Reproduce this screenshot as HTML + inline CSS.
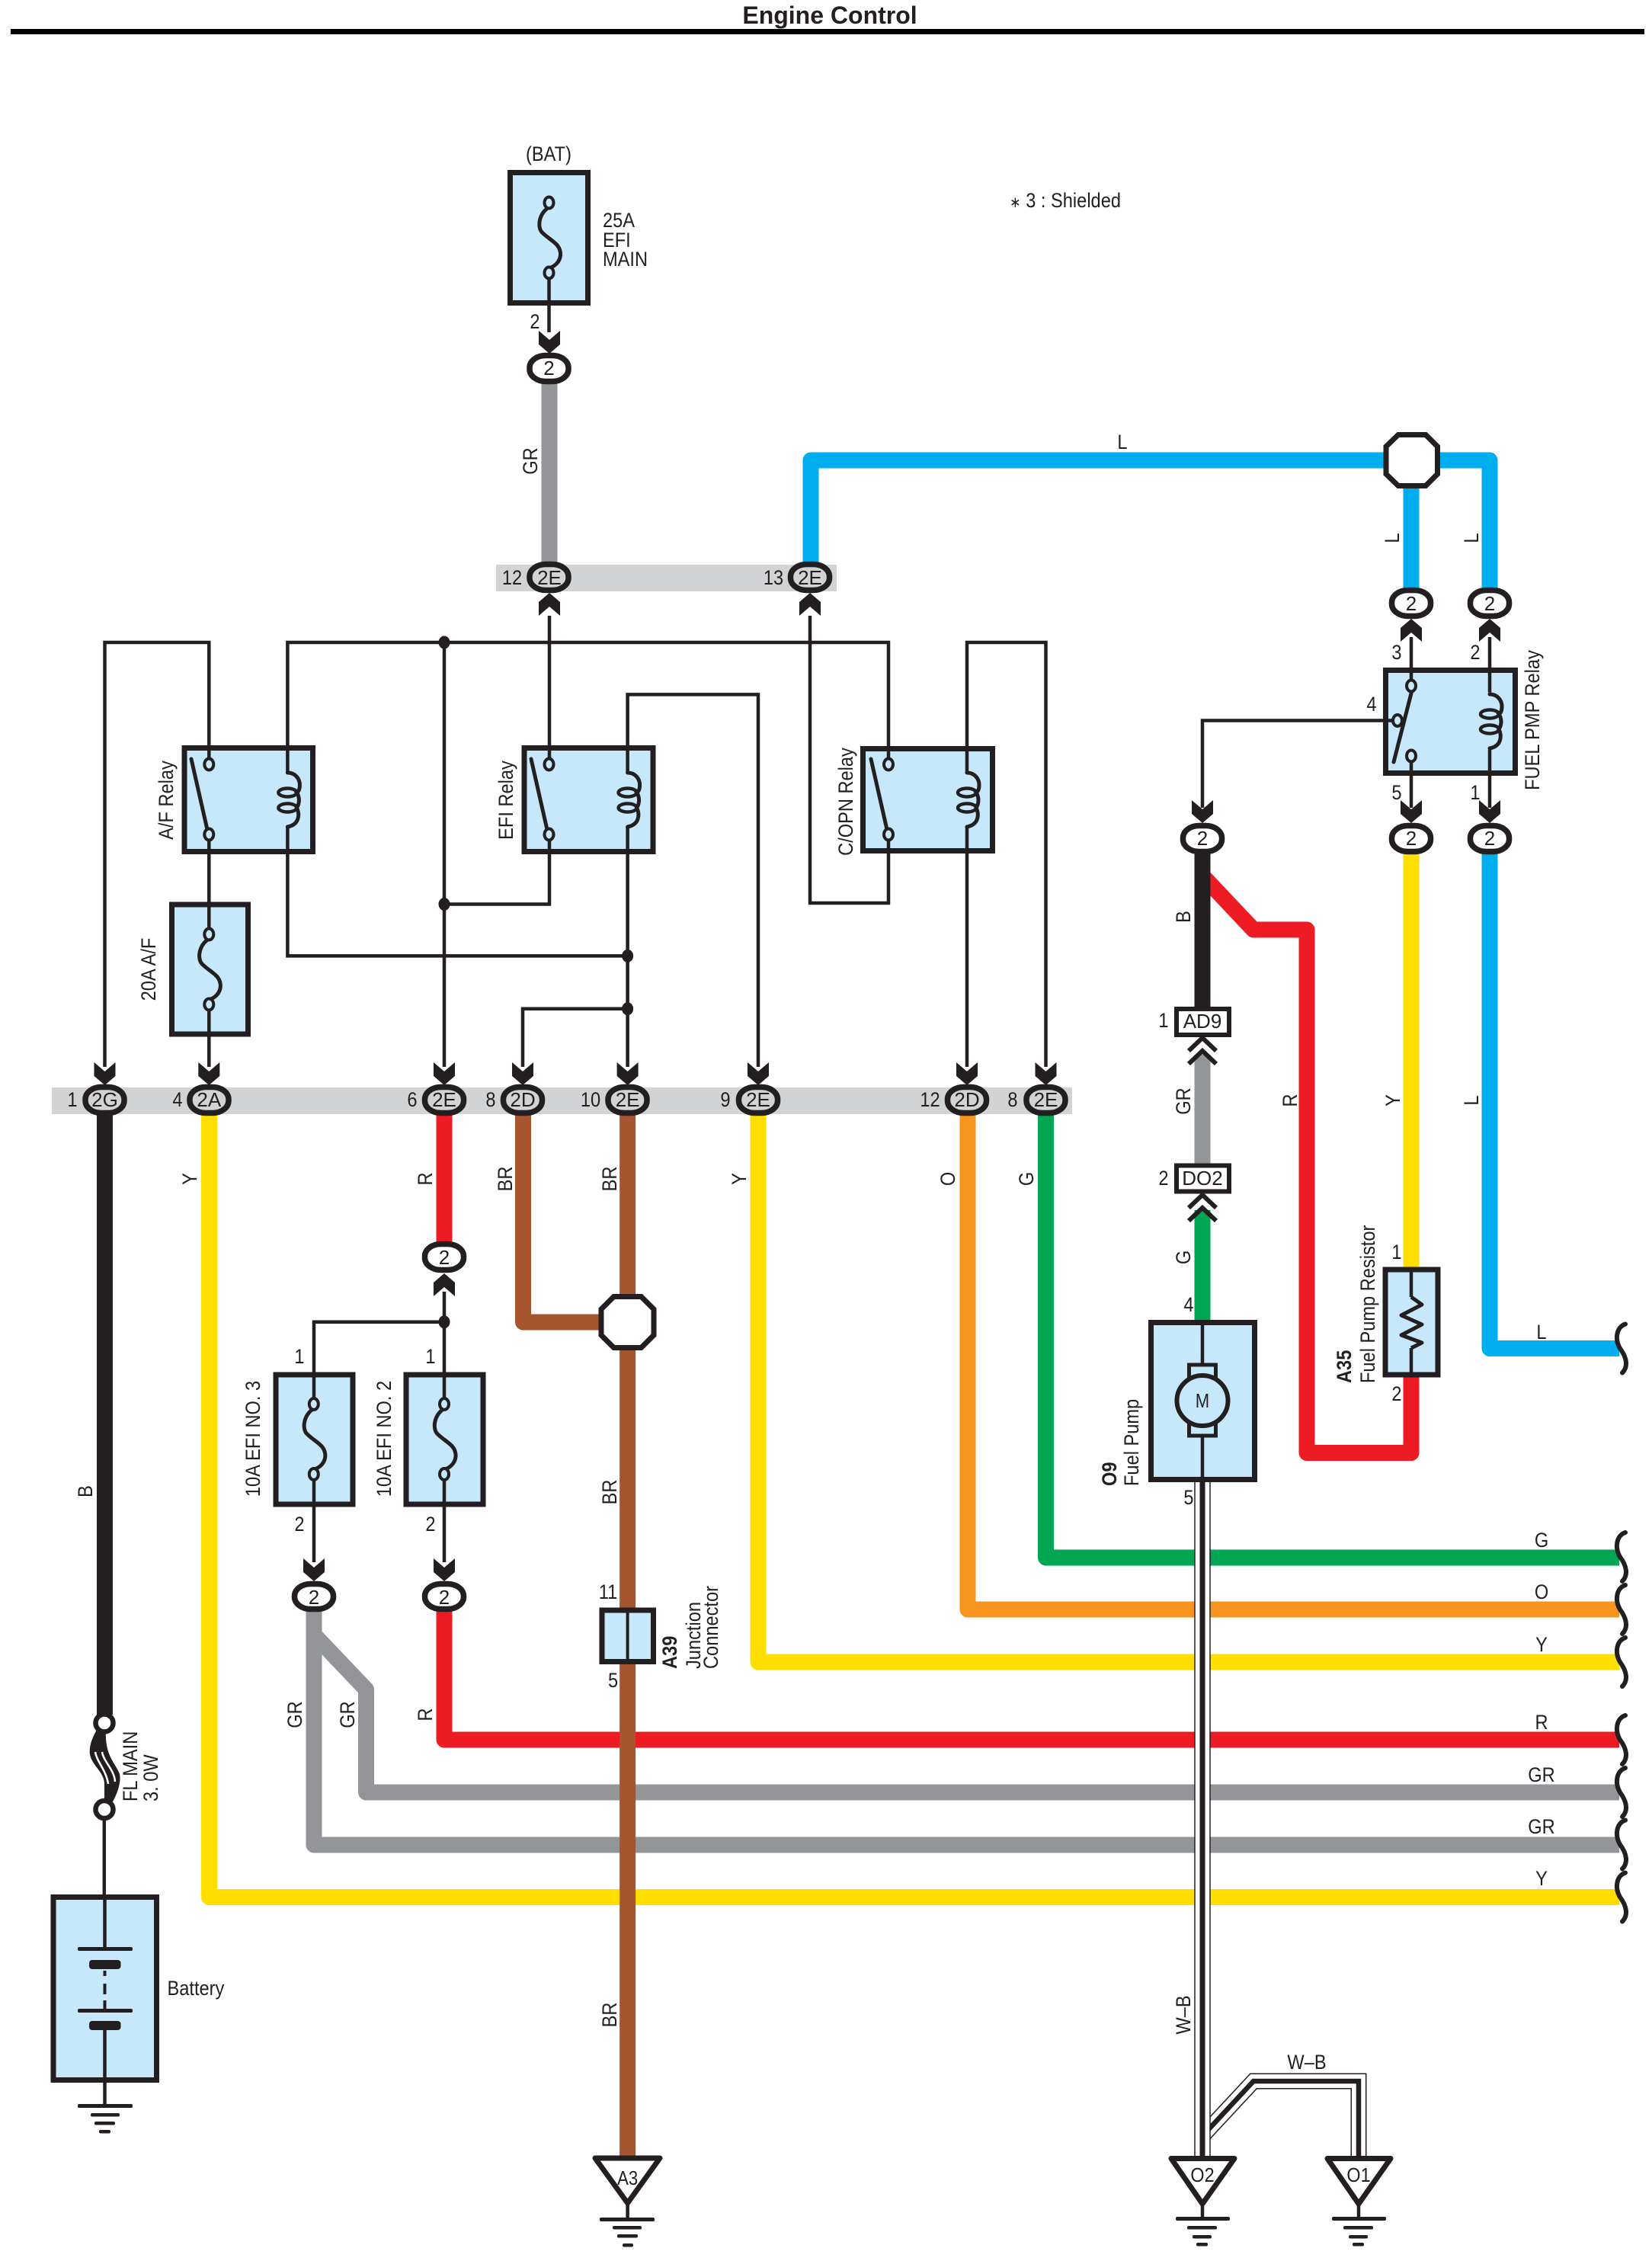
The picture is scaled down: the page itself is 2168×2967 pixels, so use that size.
<!DOCTYPE html>
<html><head><meta charset="utf-8"><title>Engine Control</title>
<style>
html,body{margin:0;padding:0;background:#fff}
svg{display:block}
text{font-family:"Liberation Sans",sans-serif;font-size:27px;fill:#231f20}
.m{text-anchor:middle}
.b{font-weight:bold}
.c{font-size:26px}
.w{fill:none;stroke-width:21;stroke-linejoin:round}
.t{fill:none;stroke:#231f20;stroke-width:4.5;stroke-linejoin:miter}
.box{fill:#c7e8fb;stroke:#231f20;stroke-width:7}
.term{fill:#c7e8fb;stroke:#231f20;stroke-width:4}
.sym{fill:none;stroke:#231f20;stroke-width:5;stroke-linecap:round}
.con{fill:#fff;stroke:#231f20;stroke-width:7.5}
.cog{fill:#d1d3d4;stroke:#231f20;stroke-width:7.5}
.con rect,.cog rect{rx:21px;ry:16px}
.k{fill:#231f20}
</style></head><body>
<svg width="2168" height="2967" viewBox="0 0 2168 2967" xmlns="http://www.w3.org/2000/svg">
<defs>
<polygon id="ad" class="k" points="-14,-30 -14,-12 0,0 14,-12 14,-30 0,-18"/>
<polygon id="au" class="k" points="-14,30 -14,12 0,0 14,12 14,30 0,18"/>
<g id="fuse"><path class="sym" d="M0 -40C-14 -32 -16 -12 -8 -6C2 4 16 8 15 23C14 33 6 38 0 40"/><ellipse class="term" cx="0" cy="-46" rx="6" ry="7.5"/><ellipse class="term" cx="0" cy="46" rx="6" ry="7.5"/></g>
<g id="coil"><path class="sym" d="M0 0C10 0 16 8 16 16C16 22 14 25 12 26C16 32 16 40 12 46C16 54 16 68 0 71"/><ellipse cx="0" cy="26" rx="12" ry="5.5" fill="none" stroke="#231f20" stroke-width="4.5"/><ellipse cx="0" cy="46" rx="12" ry="5.5" fill="none" stroke="#231f20" stroke-width="4.5"/></g>
<g id="wavy"><path d="M11 -32C-1 -28 -3 -12 4 0C13 12 15 24 7 32" fill="none" stroke="#231f20" stroke-width="6" stroke-linecap="round"/></g>
<g id="chev"><path d="M-18 21L0 4L18 21M-18 38L0 21L18 38" fill="none" stroke="#231f20" stroke-width="6"/></g>
</defs>

<!-- title -->
<text class="b m" style="font-size:32px" x="1089" y="31">Engine Control</text>
<rect x="14" y="38" width="2144" height="7" fill="#000"/>
<text transform="translate(1325,272) scale(.875,1)"><tspan style="font-size:20px">∗</tspan> 3 : Shielded</text>

<!-- bands -->
<rect x="651" y="741" width="447" height="35" fill="#d1d3d4"/>
<rect x="68" y="1427" width="1339" height="35" fill="#d1d3d4"/>

<!-- colored wires -->
<g class="w">
<path stroke="#939598" d="M721 500V745"/>
<path stroke="#00aeef" d="M1064 745V604H1955V780"/>
<path stroke="#00aeef" d="M1852 604V780"/>
<path stroke="#00aeef" d="M1955 1110V1769.5H2125"/>
<path stroke="#ffde00" d="M1852 1110V1670"/>
<path stroke="#ed1c24" d="M1578 1149L1645 1220H1715V1906.5H1852V1800"/>
<path stroke="#231f20" d="M1578 1110V1325"/>
<path stroke="#939598" d="M1578 1384V1530"/>
<path stroke="#00a651" d="M1578 1588V1736"/>
<path stroke="#231f20" d="M137.5 1455V2250"/>
<path stroke="#ffde00" d="M274.5 1455V2489.5H2125"/>
<path stroke="#ed1c24" d="M583 1455V1635"/>
<path stroke="#ed1c24" d="M583 2110V2283H2125"/>
<path stroke="#939598" d="M412 2110V2421H2125"/>
<path stroke="#939598" d="M412 2145L480.5 2217V2352H2125"/>
<path stroke="#ffde00" d="M995 1455V2181H2125"/>
<path stroke="#f7941d" d="M1270 1455V2112H2125"/>
<path stroke="#00a651" d="M1372.5 1455V2044H2125"/>
<path stroke="#a7552f" d="M686.5 1455V1735H800"/>
<path stroke="#a7552f" d="M823.6 1455V2835"/>
</g>

<!-- W-B -->
<path d="M1578 2803L1645 2731H1783V2832" fill="none" stroke="#231f20" stroke-width="21"/>
<path d="M1578 2803L1645 2731H1783V2832" fill="none" stroke="#fff" stroke-width="18"/>
<path d="M1578 2803L1645 2731H1783V2832" fill="none" stroke="#231f20" stroke-width="6.5"/>
<rect x="1568" y="1940" width="20" height="892" fill="#fff" stroke="#231f20" stroke-width="1.5"/>
<rect x="1574.5" y="1940" width="7" height="892" fill="#231f20"/>

<!-- boxes -->
<rect class="box" x="669.5" y="226.5" width="102" height="171"/>
<rect class="box" x="242" y="981.5" width="168.5" height="136"/>
<rect class="box" x="688" y="981.5" width="169" height="136"/>
<rect class="box" x="1132.5" y="982.5" width="170" height="134"/>
<rect class="box" x="1818.5" y="879.5" width="170" height="135"/>
<rect class="box" x="225.5" y="1187" width="100" height="170"/>
<rect class="box" x="362" y="1804" width="101" height="170"/>
<rect class="box" x="533" y="1804" width="101" height="170"/>
<rect class="box" x="790" y="2113" width="67.5" height="67.5"/>
<rect class="box" x="1818" y="1666" width="69" height="138"/>
<rect class="box" x="1510.5" y="1735.5" width="136" height="206"/>
<rect class="box" x="70" y="2489.5" width="135.5" height="240"/>

<!-- thin wires -->
<g class="t">
<path d="M720.5 358V436"/>
<path d="M721 808V1003"/>
<path d="M721 1095V1186.5H583"/>
<path d="M137.5 1400V843H274.3V1003"/>
<path d="M274.3 1095V1225M274.3 1318V1400"/>
<path d="M377.4 1014V843H1166V1003"/>
<path d="M377.4 1085V1254.4H823.6"/>
<path d="M583 843V1400"/>
<path d="M995 1400V911.4H823.6V1014"/>
<path d="M823.6 1085V1400"/>
<path d="M686 1400V1323.8H823.6"/>
<path d="M1063 808V1185H1166V1095"/>
<path d="M1269 1013V843H1372.5V1400"/>
<path d="M1269 1085V1400"/>
<path d="M1578 1060V945.5H1834"/>
<path d="M1852 836V900M1852 992V1060"/>
<path d="M1955 836V908.5M1955 984V1060"/>
<path d="M583 1695V1842M583 1935V2050"/>
<path d="M412 2050V1935M412 1842V1734.7H583"/>
<path d="M136.8 2385V2487"/>
<path d="M1578 1733V1790M1578 1885V1945"/>
<path d="M1852 1666V1702M1852 1769V1805"/>
<path d="M823.6 2112V2180" stroke-width="4"/>
<path d="M137.5 2486V2557M137.5 2664V2764"/>
</g>

<!-- fuses -->
<use href="#fuse" x="720.5" y="312"/>
<use href="#fuse" x="274.3" y="1272"/>
<use href="#fuse" x="411.8" y="1888.5"/>
<use href="#fuse" x="583" y="1888.5"/>

<!-- relays -->
<use href="#coil" x="377.4" y="1014"/><use href="#coil" x="823.6" y="1014"/><use href="#coil" x="1269" y="1014"/><use href="#coil" x="1955" y="911"/>
<path class="sym" d="M251 996L273 1093M697 996L719 1093M1143 996L1165 1093M1829 1000L1854 902"/>
<ellipse class="term" cx="274.3" cy="1003" rx="6" ry="7.5"/><ellipse class="term" cx="274.3" cy="1095" rx="6" ry="7.5"/>
<ellipse class="term" cx="720.5" cy="1003" rx="6" ry="7.5"/><ellipse class="term" cx="720.5" cy="1095" rx="6" ry="7.5"/>
<ellipse class="term" cx="1166" cy="1003" rx="6" ry="7.5"/><ellipse class="term" cx="1166" cy="1095" rx="6" ry="7.5"/>
<ellipse class="term" cx="1852" cy="900" rx="6" ry="7.5"/><ellipse class="term" cx="1834" cy="945.5" rx="6" ry="7.5"/><ellipse class="term" cx="1852" cy="992" rx="6" ry="7.5"/>

<!-- nodes -->
<g class="k"><ellipse cx="583" cy="843" rx="7.5" ry="8.5"/><ellipse cx="583" cy="1186.5" rx="7.5" ry="8.5"/><ellipse cx="823.6" cy="1254.4" rx="7.5" ry="8.5"/><ellipse cx="823.6" cy="1323.8" rx="7.5" ry="8.5"/><ellipse cx="583" cy="1734.7" rx="7.5" ry="8.5"/></g>

<!-- arrows -->
<use href="#ad" x="721" y="464"/>
<use href="#au" x="721" y="778"/><use href="#au" x="1063" y="778"/>
<use href="#au" x="1852" y="812"/><use href="#au" x="1955" y="812"/>
<use href="#ad" x="1578" y="1080"/><use href="#ad" x="1852" y="1080"/><use href="#ad" x="1955" y="1080"/>
<use href="#ad" x="137.5" y="1424"/><use href="#ad" x="274.3" y="1424"/><use href="#ad" x="583" y="1424"/><use href="#ad" x="686" y="1424"/><use href="#ad" x="823.6" y="1424"/><use href="#ad" x="995" y="1424"/><use href="#ad" x="1269" y="1424"/><use href="#ad" x="1372.5" y="1424"/>
<use href="#au" x="583" y="1671"/>
<use href="#ad" x="412" y="2075"/><use href="#ad" x="583" y="2075"/>

<!-- connectors -->
<g class="con">
<rect x="695" y="466.5" width="51" height="34"/>
<rect x="1826.5" y="774.5" width="51" height="34"/><rect x="1929.5" y="774.5" width="51" height="34"/>
<rect x="1552.5" y="1083.5" width="51" height="34"/><rect x="1826.5" y="1083.5" width="51" height="34"/><rect x="1929.5" y="1083.5" width="51" height="34"/>
<rect x="557.5" y="1632.5" width="51" height="34"/>
<rect x="386.5" y="2078.5" width="51" height="33"/><rect x="557.5" y="2078.5" width="51" height="33"/>
</g>
<g class="cog">
<rect x="695" y="740.5" width="51" height="34"/><rect x="1037.5" y="740.5" width="51" height="34"/>
<rect x="112" y="1426.5" width="51" height="34"/><rect x="249" y="1426.5" width="51" height="34"/><rect x="557.5" y="1426.5" width="51" height="34"/><rect x="660.5" y="1426.5" width="51" height="34"/><rect x="798" y="1426.5" width="51" height="34"/><rect x="969.5" y="1426.5" width="51" height="34"/><rect x="1243.5" y="1426.5" width="51" height="34"/><rect x="1347" y="1426.5" width="51" height="34"/>
</g>

<!-- octagons -->
<polygon points="1835,570.5 1871,570.5 1886.5,586 1886.5,622 1871,637.5 1835,637.5 1819,622 1819,586" fill="#fff" stroke="#231f20" stroke-width="7"/>
<polygon points="805.5,1701.5 841.5,1701.5 858,1718 858,1752 841.5,1768.5 805.5,1768.5 789,1752 789,1718" fill="#fff" stroke="#231f20" stroke-width="7"/>

<!-- AD9 / DO2 -->
<rect x="1544" y="1324" width="69" height="34" fill="#fff" stroke="#231f20" stroke-width="6"/>
<rect x="1544" y="1529.5" width="69" height="34" fill="#fff" stroke="#231f20" stroke-width="6"/>
<use href="#chev" x="1578" y="1358"/><use href="#chev" x="1578" y="1564"/>

<!-- motor -->
<rect x="1560.5" y="1791" width="35" height="93" fill="#c7e8fb" stroke="#231f20" stroke-width="5"/>
<ellipse cx="1578" cy="1838" rx="33.5" ry="33" fill="#c7e8fb" stroke="#231f20" stroke-width="6"/>

<!-- resistor -->
<path d="M1852 1702L1866 1712L1839 1726L1866 1738L1839 1752L1866 1762L1852 1769" fill="none" stroke="#231f20" stroke-width="5" stroke-linejoin="round"/>

<!-- wavy ends -->
<use href="#wavy" x="2122" y="1769.5"/><use href="#wavy" x="2122" y="2043"/><use href="#wavy" x="2122" y="2112"/><use href="#wavy" x="2122" y="2181"/><use href="#wavy" x="2122" y="2283"/><use href="#wavy" x="2122" y="2352"/><use href="#wavy" x="2122" y="2420.5"/><use href="#wavy" x="2122" y="2489.5"/>

<!-- fusible link -->
<path class="k" d="M127 2270C118 2285 116 2298 119 2306C123 2318 136 2326 137 2340L137 2366L147 2366C155 2352 159 2338 157 2328C152 2314 137 2304 139 2270Z"/>
<path d="M125 2299C127 2312 139 2322 142 2341M134 2299C136 2312 150 2322 151 2338" fill="none" stroke="#fff" stroke-width="2.5"/>
<ellipse cx="137" cy="2261" rx="11.5" ry="11.5" fill="#fff" stroke="#231f20" stroke-width="6.5"/>
<ellipse cx="137" cy="2374.5" rx="11.5" ry="11.5" fill="#fff" stroke="#231f20" stroke-width="6.5"/>

<!-- battery -->
<g fill="#231f20">
<rect x="102" y="2555" width="72" height="5" rx="2"/><rect x="117" y="2572" width="41.5" height="12" rx="4"/>
<rect x="135.5" y="2586" width="4" height="7"/><rect x="135.5" y="2603" width="4" height="14"/><rect x="135.5" y="2625" width="4" height="12"/>
<rect x="102" y="2636" width="72" height="5" rx="2"/><rect x="117" y="2652" width="41.5" height="12" rx="4"/>
</g>

<!-- grounds -->
<g fill="#231f20">
<rect x="102" y="2761" width="72" height="5" rx="2"/><rect x="119" y="2773" width="38" height="4.5" rx="2"/><rect x="124" y="2784" width="27" height="4.5" rx="2"/><rect x="130" y="2795" width="15" height="4.5" rx="2"/>
<rect x="787" y="2910" width="72" height="5" rx="2"/><rect x="804" y="2921" width="38" height="4.5" rx="2"/><rect x="810" y="2932" width="27" height="4.5" rx="2"/><rect x="817" y="2944" width="14" height="4.5" rx="2"/>
<rect x="1543" y="2909" width="71" height="5" rx="2"/><rect x="1558" y="2921" width="39" height="4.5" rx="2"/><rect x="1565" y="2933" width="25" height="4.5" rx="2"/><rect x="1570" y="2943" width="15" height="4.5" rx="2"/>
<rect x="1748" y="2909" width="71" height="5" rx="2"/><rect x="1763" y="2921" width="39" height="4.5" rx="2"/><rect x="1770" y="2933" width="25" height="4.5" rx="2"/><rect x="1775" y="2943" width="15" height="4.5" rx="2"/>
</g>
<path class="t" d="M823.6 2890V2912M1578 2890V2911M1783 2890V2911"/>

<!-- triangles -->
<polygon points="781,2832 866,2832 823.6,2891" fill="#fff" stroke="#231f20" stroke-width="7" stroke-linejoin="round"/>
<polygon points="1537,2832.5 1620,2832.5 1578,2892" fill="#fff" stroke="#231f20" stroke-width="7" stroke-linejoin="round"/>
<polygon points="1742,2832.5 1825,2832.5 1783,2892" fill="#fff" stroke="#231f20" stroke-width="7" stroke-linejoin="round"/>

<!-- horizontal labels -->
<g class="m">
<text transform="translate(720,211) scale(.875,1)">(BAT)</text>
<text transform="translate(702,431) scale(.875,1)">2</text>
<text class="c" x="720.5" y="492">2</text>
<text class="c" x="721" y="767">2E</text><text class="c" x="1063" y="767">2E</text>
<text transform="translate(672,767) scale(.875,1)">12</text><text transform="translate(1015,767) scale(.875,1)">13</text>
<text transform="translate(1473,589) scale(.875,1)">L</text>
<text class="c" x="1852" y="801">2</text><text class="c" x="1955" y="801">2</text>
<text class="c" x="1578" y="1109">2</text><text class="c" x="1852" y="1109">2</text><text class="c" x="1955" y="1109">2</text>
<text transform="translate(1833,865) scale(.875,1)">3</text><text transform="translate(1936,865) scale(.875,1)">2</text>
<text transform="translate(1800,933) scale(.875,1)">4</text><text transform="translate(1833,1049) scale(.875,1)">5</text><text transform="translate(1936,1049) scale(.875,1)">1</text>
<text class="c" x="137.5" y="1452">2G</text><text class="c" x="274.3" y="1452">2A</text><text class="c" x="583" y="1452">2E</text><text class="c" x="686" y="1452">2D</text><text class="c" x="823.6" y="1452">2E</text><text class="c" x="995" y="1452">2E</text><text class="c" x="1269" y="1452">2D</text><text class="c" x="1372.5" y="1452">2E</text>
<text transform="translate(95,1452) scale(.875,1)">1</text><text transform="translate(233,1452) scale(.875,1)">4</text><text transform="translate(541,1452) scale(.875,1)">6</text><text transform="translate(644,1452) scale(.875,1)">8</text><text transform="translate(775,1452) scale(.875,1)">10</text><text transform="translate(952,1452) scale(.875,1)">9</text><text transform="translate(1220.5,1452) scale(.875,1)">12</text><text transform="translate(1329,1452) scale(.875,1)">8</text>
<text transform="translate(1527,1348) scale(.875,1)">1</text><text transform="translate(1527,1555) scale(.875,1)">2</text>
<text class="c" x="1578" y="1349">AD9</text><text class="c" x="1578" y="1555">DO2</text>
<text transform="translate(1560,1721) scale(.875,1)">4</text><text transform="translate(1560,1974) scale(.875,1)">5</text>
<text class="c" transform="translate(1578,1847) scale(.85,1)">M</text>
<text transform="translate(1833,1652) scale(.875,1)">1</text><text transform="translate(1833,1838) scale(.875,1)">2</text>
<text class="c" x="583" y="1659">2</text><text class="c" x="412" y="2105">2</text><text class="c" x="583" y="2105">2</text>
<text transform="translate(393,1789) scale(.875,1)">1</text><text transform="translate(565,1789) scale(.875,1)">1</text>
<text transform="translate(393,2009) scale(.875,1)">2</text><text transform="translate(565,2009) scale(.875,1)">2</text>
<text transform="translate(798,2098) scale(.875,1)">11</text><text transform="translate(804.6,2214) scale(.875,1)">5</text>
<text transform="translate(2023,1757) scale(.875,1)">L</text><text transform="translate(2023,2030) scale(.875,1)">G</text><text transform="translate(2023,2098) scale(.875,1)">O</text><text transform="translate(2023,2167) scale(.875,1)">Y</text><text transform="translate(2023,2269) scale(.875,1)">R</text><text transform="translate(2023,2338) scale(.875,1)">GR</text><text transform="translate(2023,2406) scale(.875,1)">GR</text><text transform="translate(2023,2474) scale(.875,1)">Y</text>
<text transform="translate(1715,2715) scale(.875,1)">W–B</text>
<text class="c" transform="translate(823.6,2867) scale(.85,1)">A3</text>
<text class="c" transform="translate(1578,2863) scale(.9,1)">O2</text><text class="c" transform="translate(1783,2863) scale(.9,1)">O1</text>
</g>
<text transform="translate(791,298) scale(.875,1)">25A</text><text transform="translate(791,324) scale(.875,1)">EFI</text><text transform="translate(791,349) scale(.875,1)">MAIN</text>
<text transform="translate(219.5,2618) scale(.875,1)">Battery</text>

<!-- rotated labels -->
<g class="m">
<text transform="translate(705,605) rotate(-90) scale(.875,1)">GR</text>
<text transform="translate(1836,706) rotate(-90) scale(.875,1)">L</text><text transform="translate(1940,706) rotate(-90) scale(.875,1)">L</text>
<text transform="translate(2020,945) rotate(-90) scale(.875,1)">FUEL PMP Relay</text>
<text transform="translate(1119,1052) rotate(-90) scale(.875,1)">C/OPN Relay</text>
<text transform="translate(227,1050) rotate(-90) scale(.875,1)">A/F Relay</text>
<text transform="translate(673,1050) rotate(-90) scale(.875,1)">EFI Relay</text>
<text transform="translate(204,1272) rotate(-90) scale(.875,1)">20A A/F</text>
<text transform="translate(258,1547) rotate(-90) scale(.875,1)">Y</text>
<text transform="translate(567,1547) rotate(-90) scale(.875,1)">R</text>
<text transform="translate(672,1547) rotate(-90) scale(.875,1)">BR</text>
<text transform="translate(809,1547) rotate(-90) scale(.875,1)">BR</text>
<text transform="translate(979,1547) rotate(-90) scale(.875,1)">Y</text>
<text transform="translate(1253,1547) rotate(-90) scale(.875,1)">O</text>
<text transform="translate(1356,1547) rotate(-90) scale(.875,1)">G</text>
<text transform="translate(1562,1203) rotate(-90) scale(.875,1)">B</text>
<text transform="translate(1562,1445) rotate(-90) scale(.875,1)">GR</text>
<text transform="translate(1562,1650) rotate(-90) scale(.875,1)">G</text>
<text transform="translate(1702,1444) rotate(-90) scale(.875,1)">R</text>
<text transform="translate(1837,1444) rotate(-90) scale(.875,1)">Y</text>
<text transform="translate(1940,1444) rotate(-90) scale(.875,1)">L</text>
<text transform="translate(121,1957) rotate(-90) scale(.875,1)">B</text>
<text transform="translate(341,1888) rotate(-90) scale(.875,1)">10A EFI NO. 3</text>
<text transform="translate(513,1888) rotate(-90) scale(.875,1)">10A EFI NO. 2</text>
<text transform="translate(809,1958) rotate(-90) scale(.875,1)">BR</text>
<text transform="translate(809,2644) rotate(-90) scale(.875,1)">BR</text>
<text transform="translate(396,2250) rotate(-90) scale(.875,1)">GR</text>
<text transform="translate(465,2250) rotate(-90) scale(.875,1)">GR</text>
<text transform="translate(567,2250) rotate(-90) scale(.875,1)">R</text>
<text transform="translate(1562,2644) rotate(-90) scale(.875,1)">W–B</text>
</g>
<text transform="translate(180,2364) rotate(-90) scale(.875,1)">FL MAIN</text>
<text transform="translate(207,2364) rotate(-90) scale(.875,1)">3. 0W</text>
<text class="b" transform="translate(888,2190) rotate(-90) scale(.875,1)">A39</text>
<text transform="translate(919,2190) rotate(-90) scale(.875,1)">Junction</text>
<text transform="translate(942,2190) rotate(-90) scale(.875,1)">Connector</text>
<text class="b" transform="translate(1465,1950) rotate(-90) scale(.875,1)">O9</text>
<text transform="translate(1494,1950) rotate(-90) scale(.875,1)">Fuel Pump</text>
<text class="b" transform="translate(1773,1815) rotate(-90) scale(.875,1)">A35</text>
<text transform="translate(1804,1815) rotate(-90) scale(.875,1)">Fuel Pump Resistor</text>
</svg>
</body></html>
